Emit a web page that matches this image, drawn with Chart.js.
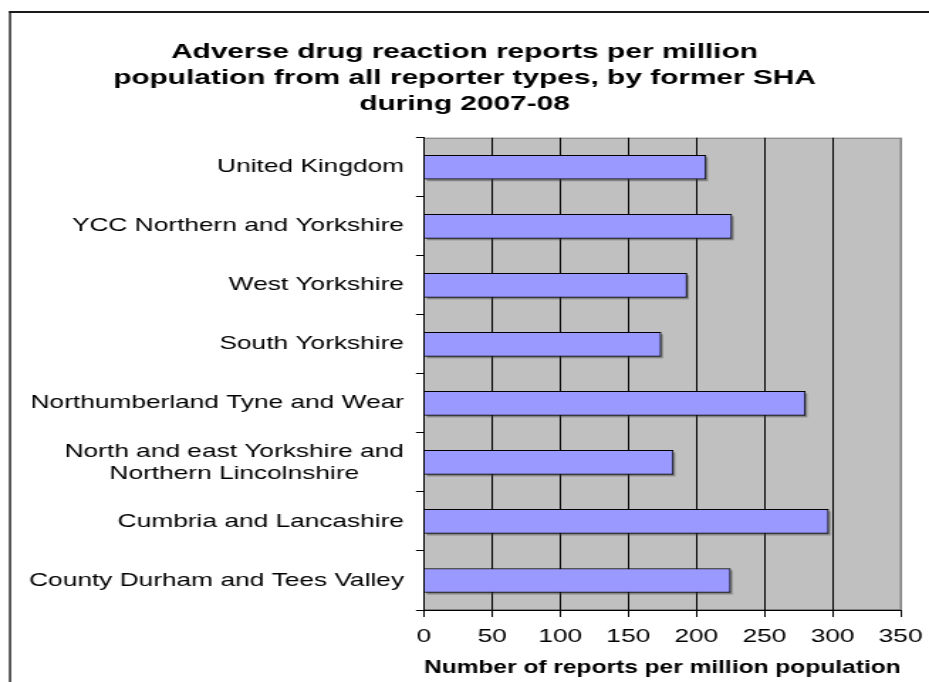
<!DOCTYPE html>
<html><head><meta charset="utf-8">
<script src="https://cdn.jsdelivr.net/npm/chart.js@4/dist/chart.umd.min.js"></script>
<style>
html,body{margin:0;padding:0;background:#fff;overflow:hidden;width:929px;height:682px;}
#wrap{position:absolute;left:0;top:0;width:654px;height:682px;transform:scaleX(1.420489);transform-origin:0 0;}
canvas{display:block;}
</style></head><body>
<div id="wrap"><canvas id="c" width="654" height="682"></canvas></div>
<script>
const titleLines = ['Adverse drug reaction reports per million', 'population from all reporter types, by former SHA', 'during 2007-08'];
const categories = [
  'United Kingdom',
  'YCC Northern and Yorkshire',
  'West Yorkshire',
  'South Yorkshire',
  'Northumberland Tyne and Wear',
  ['North and east Yorkshire and', 'Northern Lincolnshire'],
  'Cumbria and Lancashire',
  'County Durham and Tees Valley'
];
const reportsPerMillion = [207, 226, 193, 174, 280, 183, 297, 225];
const xTickValues = [0, 50, 100, 150, 200, 250, 300, 350];
const xAxisTitle = 'Number of reports per million population';

const S = 929 / 654; // horizontal stretch of the page
const FONT = '"Liberation Sans", Arial, Helvetica, sans-serif';
Chart.defaults.font.family = FONT;
Chart.defaults.color = '#000';

const framePlugin = {
  id: 'frame',
  beforeDraw(chart) {
    const {ctx, chartArea: a} = chart;
    ctx.save();
    ctx.fillStyle = '#fff';
    ctx.fillRect(0, 0, chart.width, chart.height);
    ctx.fillStyle = '#C0C0C0';
    ctx.fillRect(a.left, a.top, a.right - a.left, a.bottom - a.top);
    ctx.strokeStyle = '#808080';
    ctx.lineWidth = 1;
    ctx.strokeRect(a.left, a.top + 0.5, a.right - a.left, a.bottom - a.top - 1);
    ctx.fillStyle = '#1a1a1a';
    ctx.fillRect(9 / S, 11, 2 / S, chart.height);
    ctx.fillRect(9 / S, 11, chart.width, 2);
    ctx.restore();
  },
  beforeDatasetsDraw(chart) {
    const {ctx} = chart;
    const meta = chart.getDatasetMeta(0);
    ctx.save();
    ctx.fillStyle = 'rgba(60,60,60,0.45)';
    meta.data.forEach(bar => {
      const p = bar.getProps(['x', 'y', 'base', 'height'], true);
      ctx.fillRect(p.base + 2 / S, p.y - p.height / 2 + 2, p.x - p.base, p.height);
    });
    ctx.restore();
  }
};

const yLabelPlugin = {
  id: 'ylabels',
  afterDraw(chart) {
    const {ctx} = chart;
    const y = chart.scales.y;
    ctx.save();
    ctx.font = '18.5px ' + FONT;
    ctx.fillStyle = '#000';
    ctx.textAlign = 'center';
    ctx.textBaseline = 'middle';
    const right = 404 / S;
    const lh = 22;
    categories.forEach((lab, i) => {
      const lines = Array.isArray(lab) ? lab : [lab];
      const w = Math.max(...lines.map(l => ctx.measureText(l).width));
      const cx = right - w / 2;
      const cy = y.getPixelForValue(i);
      lines.forEach((l, k) => ctx.fillText(l, cx, cy + (k - (lines.length - 1) / 2) * lh));
    });
    ctx.restore();
  }
};

new Chart(document.getElementById('c'), {
  type: 'bar',
  data: {
    labels: categories,
    datasets: [{
      data: reportsPerMillion,
      backgroundColor: '#9999FF',
      borderColor: '#000',
      borderWidth: 1,
      barThickness: 24
    }]
  },
  options: {
    indexAxis: 'y',
    responsive: false,
    animation: false,
    devicePixelRatio: 1,
    layout: {padding: {left: 20, right: 20, top: 0, bottom: 0}},
    plugins: {
      legend: {display: false},
      tooltip: {enabled: false},
      title: {
        display: true,
        text: titleLines,
        color: '#000',
        font: {size: 21, weight: 'bold', family: FONT, lineHeight: 1.25},
        padding: {top: 39, bottom: 20}
      }
    },
    scales: {
      y: {
        type: 'category',
        offset: true,
        afterFit(s) { s.width = 424 / S - 20; s.paddingTop = 0; s.paddingBottom = 0; },
        ticks: {display: false},
        grid: {offset: true, drawOnChartArea: false, color: '#000', tickLength: 8 / S, lineWidth: 1},
        border: {color: '#000', width: 1}
      },
      x: {
        type: 'linear',
        min: 0,
        max: 350,
        afterFit(s) { s.height = 72; s.paddingLeft = 0; s.paddingRight = 0; },
        afterBuildTicks(s) { s.ticks = xTickValues.map(v => ({value: v})); },
        ticks: {color: '#000', font: {size: 18.5, family: FONT}, padding: 9},
        grid: {
          color: c => (c.tick && c.tick.value === 350) ? '#808080' : '#000',
          tickColor: '#000',
          tickLength: 7,
          lineWidth: 1
        },
        border: {color: '#000', width: 1},
        title: {
          display: true,
          text: xAxisTitle,
          color: '#000',
          font: {size: 19, weight: 'bold', family: FONT, lineHeight: 1.2},
          padding: {top: 0, bottom: 3}
        }
      }
    }
  },
  plugins: [framePlugin, yLabelPlugin]
});
</script>
</body></html>
